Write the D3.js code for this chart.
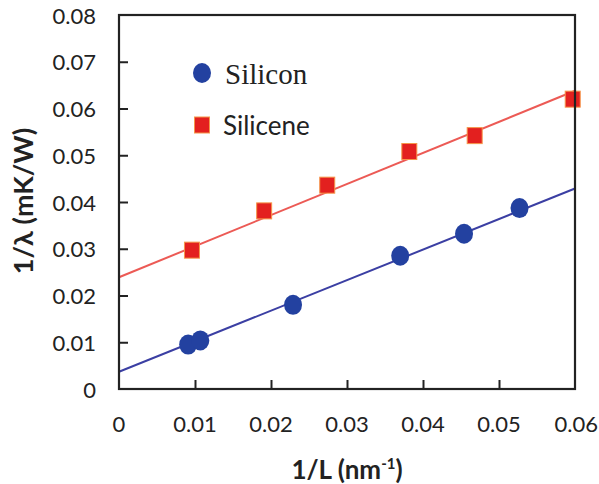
<!DOCTYPE html>
<html>
<head>
<meta charset="utf-8">
<script src="https://cdn.jsdelivr.net/npm/d3@7"></script>
<style>
  html, body { margin: 0; padding: 0; background: #fff; }
  svg { display: block; }
</style>
</head>
<body>
<svg id="chart" width="599" height="484"></svg>
<script>
// Thermal resistance vs inverse length for bulk silicon and silicene
const siliconX  = [0.0091, 0.0107, 0.0229, 0.0370, 0.0454, 0.0527];
const siliconY  = [0.0095, 0.0104, 0.0180, 0.0285, 0.0332, 0.0387];
const siliceneX = [0.0096, 0.0191, 0.0274, 0.0382, 0.0468, 0.0597];
const siliceneY = [0.0297, 0.0381, 0.0436, 0.0508, 0.0542, 0.0620];

// Linear fits: [intercept, slope]
const siliconFit  = [0.0037, 0.653];
const siliceneFit = [0.0239, 0.665];

const xTicks = [0, 0.01, 0.02, 0.03, 0.04, 0.05, 0.06];
const yTicks = [0, 0.01, 0.02, 0.03, 0.04, 0.05, 0.06, 0.07, 0.08];
const xTickLabels = ["0", "0.01", "0.02", "0.03", "0.04", "0.05", "0.06"];
const yTickLabels = ["0", "0.01", "0.02", "0.03", "0.04", "0.05", "0.06", "0.07", "0.08"];

const svg = d3.select("#chart");
const margin = { left: 119, right: 24, top: 15, bottom: 95 };
const W = 599, H = 484;

const x = d3.scaleLinear().domain([0, 0.06]).range([margin.left, W - margin.right]);
const y = d3.scaleLinear().domain([0, 0.08]).range([H - margin.bottom, margin.top]);

const tickFont = "Lato, 'Open Sans', sans-serif";
const textColor = "#222";

// Fit lines
const fitLine = (fit) => d3.line()
  .x(d => x(d))
  .y(d => y(fit[0] + fit[1] * d));
const xs = [0, 0.06];

svg.append("path").datum(xs)
  .attr("d", fitLine(siliceneFit))
  .attr("fill", "none").attr("stroke", "#ec5a55").attr("stroke-width", 2);
svg.append("path").datum(xs)
  .attr("d", fitLine(siliconFit))
  .attr("fill", "none").attr("stroke", "#3b3fa3").attr("stroke-width", 2);

// Markers
const silicon = siliconX.map((v, i) => [v, siliconY[i]]);
const silicene = siliceneX.map((v, i) => [v, siliceneY[i]]);

svg.append("g").selectAll("ellipse").data(silicon).join("ellipse")
  .attr("cx", d => x(d[0])).attr("cy", d => y(d[1]))
  .attr("rx", 9).attr("ry", 10)
  .attr("fill", "#2341a0");

svg.append("g").selectAll("rect").data(silicene).join("rect")
  .attr("x", d => x(d[0]) - 7.5).attr("y", d => y(d[1]) - 8)
  .attr("width", 15).attr("height", 16)
  .attr("fill", "#e3201f").attr("stroke", "#f5964a").attr("stroke-width", 1);

// Axes with inward ticks
const xAxis = d3.axisBottom(x).tickValues(xTicks.slice(1, -1)).tickSize(-9).tickFormat("");
const yAxis = d3.axisLeft(y).tickValues(yTicks.slice(1, -1)).tickSize(-9).tickFormat("");

svg.append("g").attr("transform", `translate(0,${y(0)})`).call(xAxis)
  .call(g => g.select(".domain").remove())
  .selectAll("line").attr("stroke", "#222").attr("stroke-width", 2);
svg.append("g").attr("transform", `translate(${x(0)},0)`).call(yAxis)
  .call(g => g.select(".domain").remove())
  .selectAll("line").attr("stroke", "#222").attr("stroke-width", 2);

// Frame
svg.append("rect")
  .attr("x", x(0)).attr("y", y(0.08))
  .attr("width", x(0.06) - x(0)).attr("height", y(0) - y(0.08))
  .attr("fill", "none").attr("stroke", "#222").attr("stroke-width", 2.2);

// Tick labels (the last x label is pushed against the right edge)
const lastX = xTicks.length - 1;
svg.append("g").selectAll("text").data(xTicks).join("text")
  .attr("x", (d, i) => i === lastX ? W - 1 : x(d)).attr("y", 423)
  .attr("text-anchor", (d, i) => i === lastX ? "end" : "middle")
  .attr("dominant-baseline", "central")
  .attr("font-family", tickFont).attr("font-size", 22).attr("fill", textColor)
  .text((d, i) => xTickLabels[i]);

svg.append("g").selectAll("text").data(yTicks).join("text")
  .attr("x", 96).attr("y", d => y(d))
  .attr("text-anchor", "end").attr("dominant-baseline", "central")
  .attr("font-family", tickFont).attr("font-size", 22).attr("fill", textColor)
  .text((d, i) => yTickLabels[i]);

// Axis titles
const xTitle = svg.append("text")
  .attr("x", 347).attr("y", 479)
  .attr("text-anchor", "middle")
  .attr("font-family", tickFont).attr("font-weight", "bold").attr("font-size", 26)
  .attr("fill", textColor);
xTitle.append("tspan").text("1/L (nm");
xTitle.append("tspan").text("-1").attr("font-size", 15).attr("dy", -10);
xTitle.append("tspan").text(")").attr("dy", 10);

svg.append("text")
  .attr("transform", "translate(33,201) rotate(-90)")
  .attr("text-anchor", "middle")
  .attr("font-family", tickFont).attr("font-weight", "bold").attr("font-size", 27)
  .attr("fill", textColor)
  .text("1/λ (mK/W)");

// Legend
const legend = svg.append("g");
legend.append("ellipse").attr("cx", 202).attr("cy", 73).attr("rx", 9).attr("ry", 10).attr("fill", "#2341a0");
legend.append("text").attr("x", 225).attr("y", 74).attr("dominant-baseline", "central")
  .attr("font-family", "'Liberation Serif', 'Times New Roman', serif").attr("font-size", 29)
  .attr("fill", "#222").text("Silicon");
legend.append("rect").attr("x", 194.5).attr("y", 117).attr("width", 15).attr("height", 16)
  .attr("fill", "#e3201f").attr("stroke", "#f5964a").attr("stroke-width", 1);
legend.append("text").attr("x", 223).attr("y", 125).attr("dominant-baseline", "central")
  .attr("font-family", tickFont).attr("font-size", 26)
  .attr("fill", "#222").text("Silicene");
</script>
</body>
</html>
